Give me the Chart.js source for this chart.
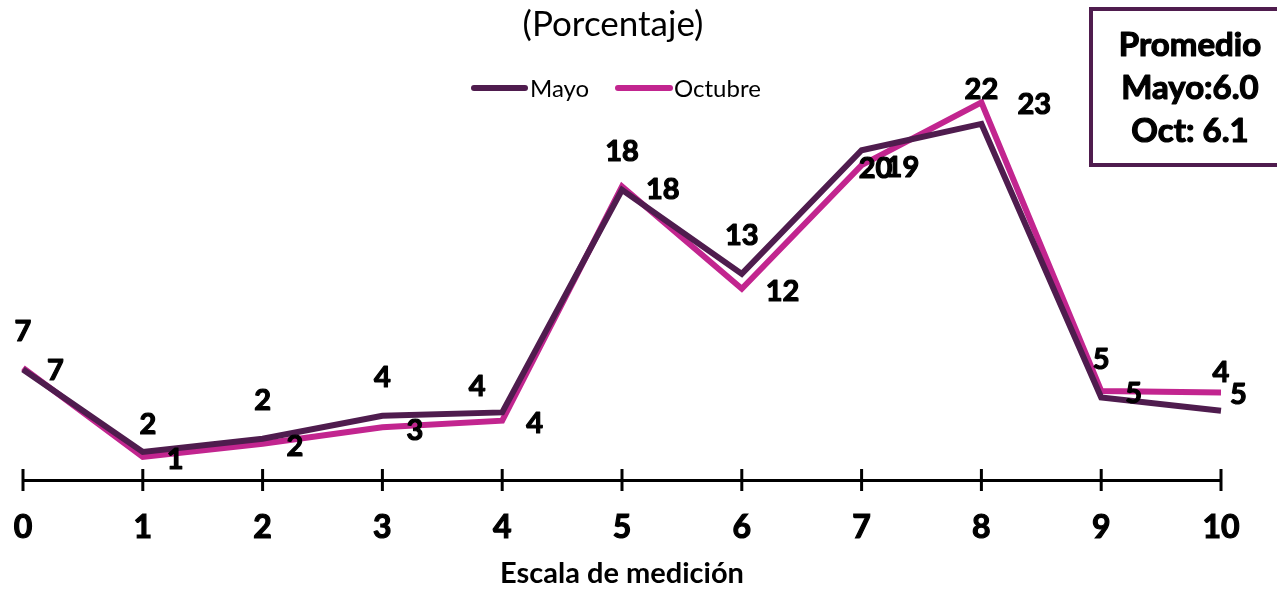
<!DOCTYPE html>
<html>
<head>
<meta charset="utf-8">
<script src="https://cdn.jsdelivr.net/npm/chart.js@4.4.0/dist/chart.umd.min.js"></script>
<style>
  html, body { margin: 0; padding: 0; background: #fff; overflow: hidden; }
  canvas { display: block; }
</style>
</head>
<body>
<canvas id="chart" width="1277" height="591"></canvas>
<script>
const escala = ["0", "1", "2", "3", "4", "5", "6", "7", "8", "9", "10"];
const mayo = [7.0, 2.0, 2.8, 4.2, 4.4, 17.9, 12.8, 20.3, 21.9, 5.3, 4.5];
const octubre = [7.1, 1.7, 2.5, 3.5, 3.9, 18.1, 11.9, 19.4, 23.2, 5.7, 5.6];
const etiquetasMayo = ["7", "2", "2", "4", "4", "18", "13", "20", "22", "5", "4"];
const etiquetasOct = ["7", "1", "2", "3", "4", "18", "12", "19", "23", "5", "5"];
const promedio = ["Promedio", "Mayo:6.0", "Oct: 6.1"];

const colorMayo = "#4f1c4e";
const colorOct = "#c2258f";
const fuente = "Lato, 'Open Sans', sans-serif";

// bold text with a thin outline so it looks as heavy as the original
function textoGrueso(ctx, t, x, y) {
  ctx.strokeText(t, x, y);
  ctx.fillText(t, x, y);
}

const extras = {
  id: "extras",
  afterDraw(chart) {
    const ctx = chart.ctx;
    const x = chart.scales.x;
    const area = chart.chartArea;
    ctx.save();

    // tick marks crossing the axis
    ctx.strokeStyle = "#000";
    ctx.lineWidth = 3;
    escala.forEach((v, i) => {
      const px = x.getPixelForValue(i);
      ctx.beginPath();
      ctx.moveTo(px, area.bottom - 11);
      ctx.lineTo(px, area.bottom + 11);
      ctx.stroke();
    });

    // title
    ctx.fillStyle = "#000";
    ctx.textAlign = "center";
    ctx.textBaseline = "middle";
    ctx.font = "35px " + fuente;
    ctx.fillText("(Porcentaje)", 613, 25);

    // legend
    ctx.lineCap = "round";
    ctx.lineWidth = 6;
    ctx.strokeStyle = colorMayo;
    ctx.beginPath(); ctx.moveTo(474, 88); ctx.lineTo(525, 88); ctx.stroke();
    ctx.strokeStyle = colorOct;
    ctx.beginPath(); ctx.moveTo(618, 88); ctx.lineTo(670, 88); ctx.stroke();
    ctx.font = "24px " + fuente;
    ctx.textAlign = "left";
    ctx.fillText("Mayo", 530, 89);
    ctx.fillText("Octubre", 674, 89);

    // average box
    ctx.lineCap = "butt";
    ctx.lineWidth = 4;
    ctx.strokeStyle = colorMayo;
    ctx.strokeRect(1091, 9, 200, 156);
    ctx.font = "bold 33px " + fuente;
    ctx.textAlign = "center";
    ctx.strokeStyle = "#000";
    ctx.lineWidth = 1.2;
    ctx.lineJoin = "round";
    promedio.forEach((t, i) => textoGrueso(ctx, t, 1190, 45 + i * 43));

    ctx.restore();
  },
  afterDatasetsDraw(chart) {
    const ctx = chart.ctx;
    ctx.save();
    ctx.fillStyle = "#000";
    ctx.strokeStyle = "#000";
    ctx.lineWidth = 1.2;
    ctx.lineJoin = "round";
    ctx.font = "bold 29px " + fuente;
    ctx.textBaseline = "middle";

    const pm = chart.getDatasetMeta(0).data;
    pm.forEach((p, i) => {
      let dx = 0, dy = -38;
      if (i === 1) { dx = 5; dy = -27; }
      if (i === 4) { dx = -25; dy = -26; }
      if (i === 7) { dx = 14; dy = 18; }
      if (i === 8) { dy = -34; }
      ctx.textAlign = "center";
      textoGrueso(ctx, etiquetasMayo[i], p.x + dx, p.y + dy);
    });

    const po = chart.getDatasetMeta(1).data;
    po.forEach((p, i) => {
      let dx = 24, dy = 3;
      if (i === 8) { dx = 36; dy = 2; }
      if (i === 10) { dx = 9; dy = 2; }
      ctx.textAlign = "left";
      textoGrueso(ctx, etiquetasOct[i], p.x + dx, p.y + dy);
    });
    ctx.restore();
  }
};

new Chart(document.getElementById("chart"), {
  type: "line",
  data: {
    labels: escala,
    datasets: [
      {
        label: "Mayo",
        data: mayo,
        borderColor: colorMayo,
        backgroundColor: colorMayo,
        borderWidth: 6,
        pointRadius: 0,
        tension: 0
      },
      {
        label: "Octubre",
        data: octubre,
        borderColor: colorOct,
        backgroundColor: colorOct,
        borderWidth: 6,
        pointRadius: 0,
        tension: 0
      }
    ]
  },
  options: {
    responsive: false,
    animation: false,
    layout: { padding: { left: 23, right: 56, top: 20, bottom: 0 } },
    plugins: {
      legend: { display: false },
      title: { display: false },
      tooltip: { enabled: false }
    },
    scales: {
      x: {
        offset: false,
        grid: { display: false, drawTicks: false },
        border: { display: true, color: "#000", width: 3 },
        afterFit: (scale) => {
          scale.height = 111;
          scale.paddingLeft = 0;
          scale.paddingRight = 0;
        },
        ticks: {
          color: "#000",
          padding: 28,
          textStrokeColor: "#000",
          textStrokeWidth: 1.2,
          font: { family: fuente, size: 32, weight: "bold" }
        },
        title: {
          display: true,
          text: "Escala de medición",
          color: "#000",
          font: { family: fuente, size: 29, weight: "bold" },
          padding: { top: 0, bottom: 0 }
        }
      },
      y: {
        display: false,
        min: 0.3,
        max: 28.2
      }
    }
  },
  plugins: [extras]
});
</script>
</body>
</html>
